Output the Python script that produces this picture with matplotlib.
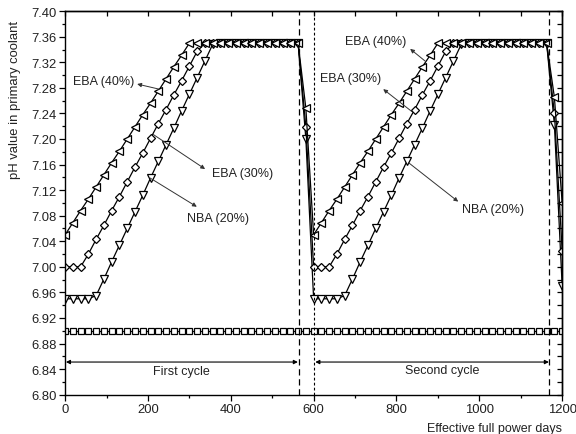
import matplotlib
matplotlib.use('Agg')
import matplotlib.pyplot as plt
from matplotlib.ticker import MultipleLocator

plt.rcParams['font.family'] = ['Liberation Sans', 'DejaVu Sans']
plt.rcParams['font.size'] = 9

# effective full power days (one point every 18.75 EFPD)
days = [0, 18.75, 37.5, 56.25, 75, 93.75, 112.5, 131.25, 150, 168.75,
        187.5, 206.25, 225, 243.75, 262.5, 281.25, 300, 318.75, 337.5, 356.25,
        375, 393.75, 412.5, 431.25, 450, 468.75, 487.5, 506.25, 525, 543.75,
        562.5, 581.25, 600, 618.75, 637.5, 656.25, 675, 693.75, 712.5, 731.25,
        750, 768.75, 787.5, 806.25, 825, 843.75, 862.5, 881.25, 900, 918.75,
        937.5, 956.25, 975, 993.75, 1012.5, 1031.25, 1050, 1068.75, 1087.5, 1106.25,
        1125, 1143.75, 1162.5, 1181.25, 1200]

# EBA (40%)
eba40_rise = [7.050, 7.069, 7.088, 7.106, 7.125, 7.144, 7.163, 7.181, 7.200,
              7.219, 7.238, 7.256, 7.275, 7.294, 7.313, 7.331, 7.350]
eba40 = (eba40_rise + [7.35] * 14 + [7.248] +
         eba40_rise + [7.35] * 14 + [7.265, 7.10])

# EBA (30%)
eba30_rise = [7.000, 7.000, 7.000, 7.020, 7.043, 7.065, 7.088, 7.110, 7.133,
              7.156, 7.178, 7.201, 7.224, 7.246, 7.269, 7.291, 7.314, 7.337, 7.350]
eba30 = (eba30_rise + [7.35] * 12 + [7.219] +
         eba30_rise + [7.35] * 12 + [7.240, 7.025])

# NBA (20%)
nba20_rise = [6.950, 6.950, 6.950, 6.950, 6.955, 6.981, 7.008, 7.034, 7.060, 7.086,
              7.112, 7.139, 7.165, 7.191, 7.217, 7.244, 7.270, 7.296, 7.322, 7.348]
nba20 = (nba20_rise + [7.35] * 11 + [7.200] +
         nba20_rise + [7.35] * 11 + [7.222, 6.970])

# reference line
ref_ph = [6.90] * len(days)

cycle_ends = [565, 600, 1168]

fig = plt.figure(figsize=(5.76, 4.35), dpi=100)
ax = fig.add_axes([0.113, 0.0905, 0.863, 0.8815])

mk = dict(color='black', linewidth=0.9, markerfacecolor='white',
          markeredgecolor='black', markeredgewidth=0.9, clip_on=True)
ax.plot(days, ref_ph, marker='s', markersize=3.8, **mk)
ax.plot(days, nba20, marker='v', markersize=5.8, **mk)
ax.plot(days, eba30, marker='D', markersize=4.5, **mk)
ax.plot(days, eba40, marker='<', markersize=5.8, **mk)

ax.axvline(cycle_ends[0], color='black', linestyle=(0, (5, 3)), linewidth=0.9)
ax.axvline(cycle_ends[1], color='black', linestyle=(0, (2.5, 2)), linewidth=0.8)
ax.axvline(cycle_ends[2], color='black', linestyle=(0, (5, 3)), linewidth=0.9)

# cycle arrows
arr = dict(arrowstyle='<|-|>', color='black', linewidth=0.8,
           mutation_scale=6, shrinkA=0, shrinkB=0)
ax.annotate('', xy=(2, 6.851), xytext=(562, 6.851), arrowprops=arr)
ax.annotate('', xy=(604, 6.851), xytext=(1168, 6.851), arrowprops=arr)
ax.text(213, 6.837, 'First cycle', ha='left', va='center', color='#222222')
ax.text(821, 6.838, 'Second cycle', ha='left', va='center', color='#222222')

# labels with pointers
labels = [
    ('EBA (40%)', (18, 7.291), (174, 7.286), (227, 7.278)),
    ('EBA (30%)', (354, 7.147), (338, 7.153), (213, 7.207)),
    ('NBA (20%)', (295, 7.076), (318, 7.094), (205, 7.139)),
    ('EBA (40%)', (676, 7.353), (833, 7.341), (869, 7.322)),
    ('EBA (30%)', (616, 7.295), (768, 7.278), (837, 7.243)),
    ('NBA (20%)', (958, 7.090), (949, 7.102), (829, 7.163)),
]
ptr = dict(arrowstyle='-|>', color='#333333', linewidth=0.7,
           mutation_scale=6, shrinkA=0, shrinkB=0)
for txt, tpos, head, tail in labels:
    ax.text(tpos[0], tpos[1], txt, ha='left', va='center', color='#222222')
    ax.annotate('', xy=head, xytext=tail, arrowprops=ptr)

ax.set_xlim(0, 1200)
ax.set_ylim(6.80, 7.40)
ax.xaxis.set_major_locator(MultipleLocator(200))
ax.xaxis.set_minor_locator(MultipleLocator(100))
ax.yaxis.set_major_locator(MultipleLocator(0.04))
ax.yaxis.set_minor_locator(MultipleLocator(0.02))
ax.yaxis.set_major_formatter(matplotlib.ticker.FormatStrFormatter('%.2f'))
ax.tick_params(which='major', direction='out', length=4, width=0.9, pad=2,
               labelsize=9.4, labelcolor='#222222')
ax.tick_params(which='minor', direction='out', length=2.5, width=0.9)

top = ax.secondary_xaxis('top')
top.xaxis.set_major_locator(MultipleLocator(100))
top.tick_params(direction='in', length=3.5, width=0.9, labeltop=False)
right = ax.secondary_yaxis('right')
right.yaxis.set_major_locator(MultipleLocator(0.02))
right.tick_params(direction='in', length=3.5, width=0.9, labelright=False)

for s in ax.spines.values():
    s.set_linewidth(1.0)
top.spines['top'].set_linewidth(1.0)
right.spines['right'].set_linewidth(1.0)

ax.set_xlabel('Effective full power days', loc='right', labelpad=5,
              color='#222222')
ax.set_ylabel('pH value in primary coolant', fontsize=9.4, color='#222222')
ax.yaxis.set_label_coords(-0.088, 0.771)

fig.savefig('out.png', dpi=100)
